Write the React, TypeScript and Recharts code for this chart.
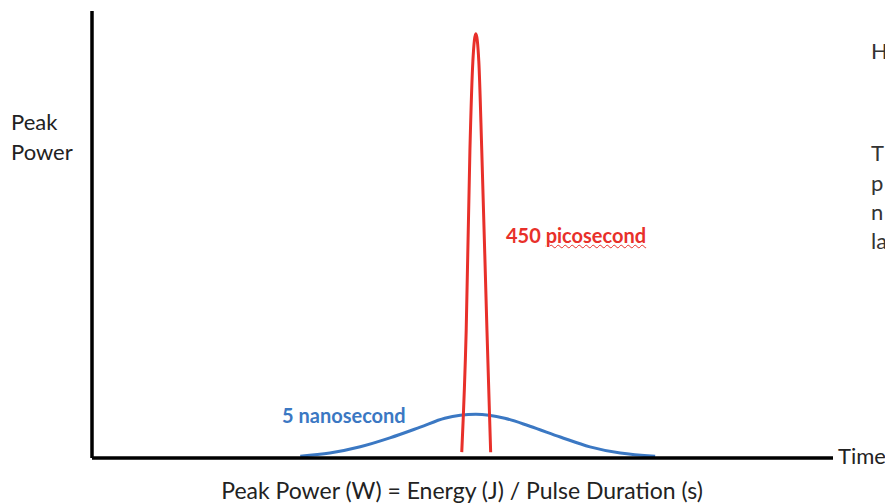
import React from 'react'
import { LineChart, Line, XAxis, YAxis } from 'recharts'

// time positions (arbitrary units, 0..100 across the axis) and peak power (0..100)
const nanoTime = [28.1, 32.1, 36.2, 40.2, 44.3, 47.6, 51.8, 55.7, 59.1, 63.2, 67.2, 71.3, 76.0]
const nanoPower = [0.4, 1.1, 2.5, 4.5, 6.9, 8.9, 9.8, 8.9, 7.1, 4.7, 2.5, 1.1, 0.4]

const picoTime = [49.9, 50.5, 51.0, 51.4, 51.8, 52.2, 52.6, 53.3, 53.8]
const picoPower = [1.3, 28.6, 68.8, 88.8, 94.9, 88.8, 68.8, 28.6, 1.3]

const sideText = ['H', 'T', 'p', 'n', 'la']

const nanoData = nanoTime.map((t, i) => ({ t, p: nanoPower[i] }))
const picoData = picoTime.map((t, i) => ({ t, p: picoPower[i] }))

const font = 'Lato, "Open Sans", sans-serif'

export default function App() {
  return (
    <div style={{ position: 'absolute', left: 0, top: 0, width: 885, height: 504, background: '#fff', overflow: 'hidden', fontFamily: font }}>
      <LineChart width={885} height={504} margin={{ top: 11, right: 52, left: 91, bottom: 45 }}>
        <XAxis
          type="number"
          dataKey="t"
          domain={[0, 100]}
          allowDataOverflow
          height={1}
          tick={false}
          tickLine={false}
          axisLine={{ stroke: '#000', strokeWidth: 3.5 }}
        />
        <YAxis
          type="number"
          dataKey="p"
          domain={[0, 100]}
          width={1}
          tick={false}
          tickLine={false}
          axisLine={{ stroke: '#000', strokeWidth: 3.5 }}
        />
        <Line data={nanoData} dataKey="p" type="monotone" stroke="#3b78c3" strokeWidth={3} dot={false} isAnimationActive={false} />
        <Line data={picoData} dataKey="p" type="monotone" stroke="#e8302a" strokeWidth={3} dot={false} isAnimationActive={false} />
      </LineChart>

      <div style={{ position: 'absolute', left: 11, top: 107, fontSize: 22, lineHeight: '30px', color: '#222' }}>
        Peak<br />Power
      </div>
      <div style={{ position: 'absolute', left: 838, top: 442, fontSize: 22, color: '#222' }}>Time</div>
      <div style={{ position: 'absolute', left: 0, width: 924, top: 476, textAlign: 'center', fontSize: 23, color: '#222' }}>
        Peak Power (W) = Energy (J) / Pulse Duration (s)
      </div>
      <div style={{ position: 'absolute', left: 506, top: 223, fontSize: 20, fontWeight: 700, color: '#e8302a' }}>
        450 <span style={{ textDecoration: 'underline wavy #e8302a', textDecorationThickness: 1 }}>picosecond</span>
      </div>
      <div style={{ position: 'absolute', left: 282, top: 403, fontSize: 20, fontWeight: 700, color: '#3b78c3' }}>
        5 nanosecond
      </div>
      {sideText.map((s, i) => (
        <div key={s} style={{ position: 'absolute', left: 871, top: [37, 139, 169, 198, 227][i], fontSize: 22, color: '#333' }}>
          {s}
        </div>
      ))}
    </div>
  )
}
